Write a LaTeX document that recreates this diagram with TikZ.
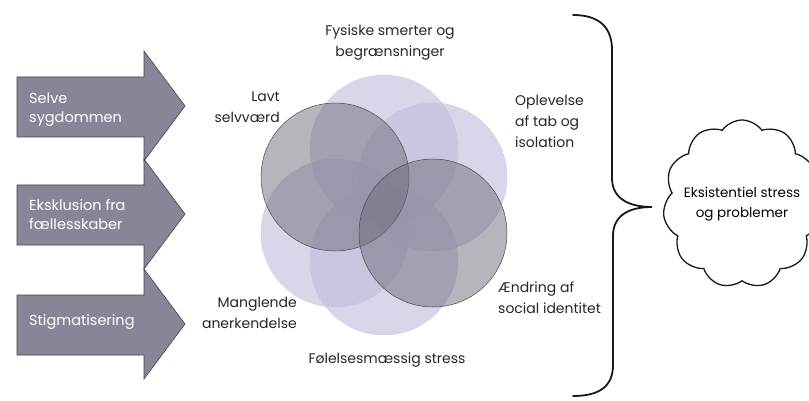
\documentclass[tikz,border=0pt]{standalone}
\usepackage{fontspec}
\setmainfont{Poppins}
\usetikzlibrary{shapes.symbols}
\definecolor{arrowgray}{RGB}{138,133,150}
\definecolor{arrowedge}{RGB}{70,66,76}
\definecolor{lav}{RGB}{198,188,220}
\definecolor{darkc}{RGB}{112,106,122}
\begin{document}
\begin{tikzpicture}[x=1pt,y=-1pt,
  arrowshape/.style={fill=arrowgray, draw=arrowedge, line width=0.6pt},
  arrowtext/.style={text=white, font=\fontsize{14.5}{19}\selectfont, align=left, anchor=west, inner sep=0pt},
  lightcirc/.style={circle, minimum size=148pt, inner sep=0pt, fill=lav, fill opacity=0.62, draw=lav, draw opacity=0.8, line width=0.3pt},
  darkcirc/.style={circle, minimum size=148pt, inner sep=0pt, fill=darkc, fill opacity=0.5, draw=black!70, line width=0.5pt},
  lbl/.style={font=\fontsize{14}{21}\selectfont, text=black!85, inner sep=0pt},
  bracestyle/.style={draw=black!90, line width=1.8pt, line cap=round},
  cloudstyle/.style={cloud, cloud puffs=11, cloud puff arc=110, minimum width=158pt, minimum height=168pt, draw=black!90, fill=white, line width=1.3pt, inner sep=0pt},
  cloudtext/.style={align=center, font=\fontsize{13.5}{20}\selectfont, inner sep=0pt}
]
\useasboundingbox (0,0) rectangle (809,401);
\fill[white] (0,0) rectangle (809,401);

% arrows
\foreach \c in {107,215,325}{
  \path[arrowshape] (17,\c-30) -- (144,\c-30) -- (144,\c-56) -- (185,\c-1) -- (144,\c+54) -- (144,\c+30) -- (17,\c+30) -- cycle;
}
\node[arrowtext] (a1) at (29,110) {Selve\\sygdommen};
\node[arrowtext] (a2) at (29,215) {Eksklusion fra\\fællesskaber};
\node[arrowtext] (a3) at (29,322) {Stigmatisering};

% circles
\node[lightcirc] (cTop) at (384,149) {};
\node[lightcirc] (cUR) at (433,177) {};
\node[lightcirc] (cBot) at (384,261) {};
\node[lightcirc] (cLL) at (335,233) {};
\node[darkcirc] (cUL) at (335,177) {};
\node[darkcirc] (cLR) at (433,233) {};

% labels
\node[lbl, align=center] (lTop) at (390,43) {Fysiske smerter og\\begrænsninger};
\node[lbl, align=right, anchor=east] (lUL) at (280,107) {Lavt\\selvværd};
\node[lbl, align=left, anchor=west] (lUR) at (515,121) {Oplevelse\\af tab og\\isolation};
\node[lbl, align=left, anchor=west] (lLR) at (498,298) {Ændring af\\social identitet};
\node[lbl, align=right, anchor=east] (lLL) at (297,313) {Manglende\\anerkendelse};
\node[lbl, align=center] (lBot) at (387,360) {Følelsesmæssig stress};

% brace
\path[bracestyle] (573,15) .. controls (600,15) and (612,28) .. (612,50) -- (612,178)
  .. controls (612,198) and (628,207) .. (652,207)
  .. controls (628,207) and (613,216) .. (613,236) -- (613,365)
  .. controls (613,386) and (600,396) .. (573,396);

% cloud
\node[cloudstyle] (cloud) at (742,204) {};
\node[cloudtext] (cloudtxt) at (cloud.center) {Eksistentiel stress\\og problemer};
\end{tikzpicture}
\end{document}
